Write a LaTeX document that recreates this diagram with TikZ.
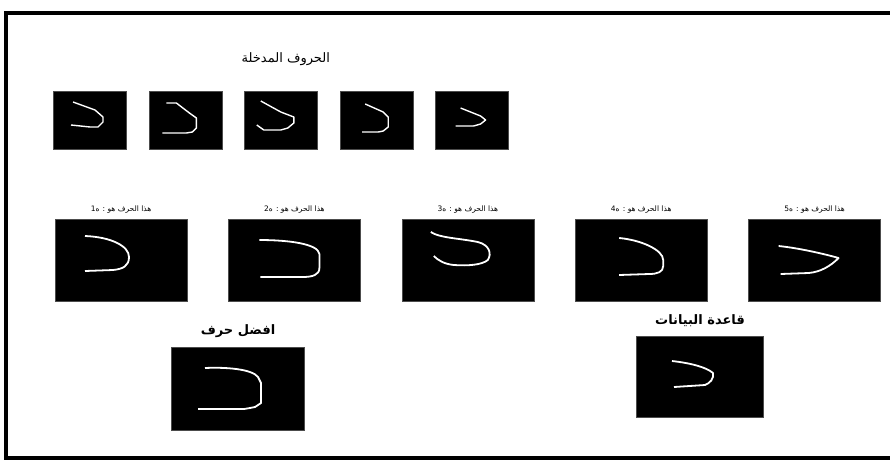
\documentclass[tikz,border=0pt]{standalone}
\usepackage{fontspec}
\newfontfamily\arabicfont[Script=Arabic]{DejaVu Sans}
\TeXXeTstate=1
\usetikzlibrary{positioning}

\begin{document}
\begin{tikzpicture}[
    x=1pt, y=-1pt,
    smallbox/.style={rectangle, fill=black, draw=black!70, minimum width=73pt, minimum height=58pt, inner sep=0pt},
    bigbox/.style={rectangle, fill=black, draw=black!70, minimum width=132pt, minimum height=82pt, inner sep=0pt},
    harf/.style={draw=white, line width=1.8pt, line join=round},
    smallharf/.style={draw=white, line width=1.4pt, line join=round},
    caption/.style={font=\arabicfont\fontsize{13}{15}\selectfont, inner sep=1pt},
    boldcap/.style={font=\arabicfont\bfseries\fontsize{13}{15}\selectfont, inner sep=1pt},
    tinycap/.style={font=\arabicfont\fontsize{7.5}{9}\selectfont, inner sep=1pt}
]
    \useasboundingbox (0,0) rectangle (890,464);
    % frame
    \draw[line width=3.5pt] (892,13) -- (6,13) -- (6,458) -- (892,458);

    % input letters
    \node[smallbox] (in1) at (90,120) {};
    \node[smallbox, right=22pt of in1] (in2) {};
    \node[smallbox, right=22pt of in2] (in3) {};
    \node[smallbox, right=22pt of in3] (in4) {};
    \node[smallbox, right=22pt of in4] (in5) {};
    \node[caption, above=24pt of in3, xshift=5pt] (title) {\beginR الحروف المدخلة\endR};

    \draw[smallharf, shift={(in1.center)}] (-17,-18) -- (5,-10) -- (13,-3) -- (13,2) -- (8,7) -- (0,7) -- (-19,5);
    \draw[smallharf, shift={(in2.center)}] (-19,-17) -- (-9,-17) -- (4,-7) -- (11,-2) -- (11,8) -- (7,12) -- (1,13) -- (-23,13);
    \draw[smallharf, shift={(in3.center)}] (-20,-19) -- (0,-8) -- (13,-3) -- (13,3) -- (7,8) -- (0,10) -- (-17,10) -- (-24,5);
    \draw[smallharf, shift={(in4.center)}] (-11,-16) -- (7,-8) -- (12,-3) -- (12,7) -- (7,11) -- (2,12) -- (-14,12);
    \draw[smallharf, shift={(in5.center)}] (-11,-12) -- (9,-4) -- (14,0) -- (9,4) -- (2,6) -- (-16,6);

    % compared letters
    \node[bigbox] (cmp1) at (121,260) {};
    \node[bigbox, right=41pt of cmp1] (cmp2) {};
    \node[bigbox, right=41pt of cmp2] (cmp3) {};
    \node[bigbox, right=41pt of cmp3] (cmp4) {};
    \node[bigbox, right=41pt of cmp4] (cmp5) {};
    \foreach \i in {1,...,5}
        \node[tinycap, above=4pt of cmp\i] (lbl\i) {\beginR هذا الحرف هو : ه\i\endR};

    \draw[harf, shift={(cmp1.center)}] (-36,-24) .. controls (-10,-23) and (8,-14) .. (8,-3) .. controls (8,6) and (2,9) .. (-8,10) -- (-36,11);
    \draw[harf, shift={(cmp2.center)}] (-35,-20) .. controls (-5,-20) and (24,-16) .. (25,-6) -- (25,8) .. controls (25,15) and (18,17) .. (8,17) -- (-34,17);
    \draw[harf, shift={(cmp3.center)}] (-37,-28) .. controls (-28,-22) and (-10,-22) .. (10,-18) .. controls (22,-15) and (24,-6) .. (20,0) .. controls (14,5) and (0,6) .. (-14,5) .. controls (-24,4) and (-30,0) .. (-34,-4);
    \draw[harf, shift={(cmp4.center)}] (-22,-22) .. controls (0,-20) and (22,-10) .. (22,0) -- (22,6) .. controls (22,12) and (16,14) .. (8,14) -- (-22,15);
    \draw[harf, shift={(cmp5.center)}] (-36,-14) .. controls (-16,-12) and (10,-6) .. (24,-2) .. controls (16,6) and (6,12) .. (-6,13) -- (-34,14);

    % best letter
    \node[bigbox, minimum width=133pt, minimum height=83pt] (best) at (238,389) {};
    \node[boldcap, above=8pt of best] (bestlbl) {\beginR افضل حرف\endR};
    \draw[harf, shift={(best.center)}] (-33,-21) .. controls (-12,-22) and (14,-20) .. (20,-12) -- (23,-6) -- (23,14) -- (20,16) -- (17,18) -- (12,19) -- (6,20) -- (-40,20);

    % database letter
    \node[bigbox, minimum width=127pt, minimum height=81pt] (db) at (700,377) {};
    \node[boldcap, above=8pt of db] (dblbl) {\beginR قاعدة البيانات\endR};
    \draw[harf, shift={(db.center)}] (-28,-16) .. controls (-10,-14) and (6,-10) .. (13,-4) .. controls (14,2) and (10,6) .. (5,8) -- (-26,10);
\end{tikzpicture}
\end{document}
